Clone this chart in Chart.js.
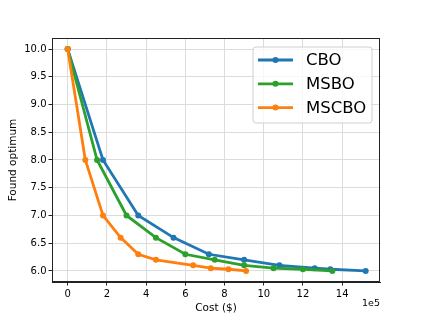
<head>
    <title>Found optimum vs cost</title>
    <script src="https://cdn.jsdelivr.net/npm/chart.js"></script>
</head>
<body>
    <canvas id="chart" width="423" height="317"></canvas>

    <script>
      // values (cost in units of 1e5 $)
      const cboCost = [0, 1.8, 3.6, 5.4, 7.2, 9.0, 10.8, 12.6, 13.4, 15.2];
      const cboOpt = [10.0, 8.0, 7.0, 6.6, 6.3, 6.2, 6.1, 6.05, 6.03, 6.0];
      const msboCost = [0, 1.5, 3.0, 4.5, 6.0, 7.5, 9.0, 10.5, 12.0, 13.5];
      const msboOpt = [10.0, 8.0, 7.0, 6.6, 6.3, 6.2, 6.1, 6.05, 6.03, 6.0];
      const mscboCost = [0, 0.9, 1.8, 2.7, 3.6, 4.5, 6.4, 7.3, 8.2, 9.1];
      const mscboOpt = [10.0, 8.0, 7.0, 6.6, 6.3, 6.2, 6.1, 6.05, 6.03, 6.0];
      const xTicks = [0, 2, 4, 6, 8, 10, 12, 14];
      const yTicks = [6.0, 6.5, 7.0, 7.5, 8.0, 8.5, 9.0, 9.5, 10.0];

      const FONT = 'DejaVu Sans';
      const pts = (xs, ys) => xs.map((x, i) => ({ x: x, y: ys[i] }));
      const serie = (label, color, xs, ys, order) => ({
        label: label, data: pts(xs, ys), order: order,
        borderColor: color, backgroundColor: color,
        borderWidth: 2.8, pointRadius: 3, pointHoverRadius: 3,
        pointBorderWidth: 0, tension: 0
      });

      // frame, axis titles, offset text and the legend box
      const extras = {
        id: 'extras',
        afterDraw(chart) {
          const c = chart.ctx, a = chart.chartArea;
          c.save();
          c.strokeStyle = '#222';
          c.lineWidth = 1;
          c.strokeRect(a.left + 0.5, a.top + 0.5, a.right - a.left - 1, a.bottom - a.top - 1);

          c.fillStyle = '#000';
          c.font = '10.5px ' + FONT;
          c.textAlign = 'center';
          c.textBaseline = 'middle';
          c.fillText('Cost ($)', (a.left + a.right) / 2, 308);
          c.save();
          c.translate(13, (a.top + a.bottom) / 2);
          c.rotate(-Math.PI / 2);
          c.fillText('Found optimum', 0, 0);
          c.restore();
          c.font = '9.5px ' + FONT;
          c.textAlign = 'right';
          c.fillText('1e5', a.right, 304);

          // legend
          const bx = 253, by = 47, bw = 119, bh = 76;
          c.beginPath();
          c.roundRect(bx, by, bw, bh, 3);
          c.fillStyle = 'rgba(255,255,255,0.8)';
          c.fill();
          c.strokeStyle = '#d0d0d0';
          c.stroke();
          c.font = '16.5px ' + FONT;
          c.textAlign = 'left';
          chart.data.datasets.forEach((d, i) => {
            const y = 60 + i * 23.8;
            c.strokeStyle = d.borderColor;
            c.lineWidth = 2.8;
            c.beginPath();
            c.moveTo(258, y);
            c.lineTo(293, y);
            c.stroke();
            c.fillStyle = d.borderColor;
            c.beginPath();
            c.arc(275.5, y, 3, 0, Math.PI * 2);
            c.fill();
            c.fillStyle = '#000';
            c.fillText(d.label, 306, y + 1);
          });
          c.restore();
        }
      };

      const ctx = document.getElementById('chart').getContext('2d');
      const chart = new Chart(ctx, {
        type: 'line',
        data: {
          datasets: [
            serie('CBO', '#1f77b4', cboCost, cboOpt, 2),
            serie('MSBO', '#2ca02c', msboCost, msboOpt, 1),
            serie('MSCBO', '#ff7f0e', mscboCost, mscboOpt, 0)
          ]
        },
        options: {
          responsive: false,
          animation: false,
          devicePixelRatio: 1,
          layout: { padding: { left: 0, top: 38, right: 43, bottom: 0 } },
          plugins: { legend: { display: false }, tooltip: { enabled: false } },
          scales: {
            x: {
              type: 'linear', min: -0.8, max: 15.93,
              afterBuildTicks: s => { s.ticks = xTicks.map(v => ({ value: v })); },
              afterFit: s => { s.height = 35; },
              ticks: { color: '#000', font: { family: FONT, size: 10 }, padding: 3, maxRotation: 0, autoSkip: false, callback: v => String(v) },
              grid: { color: '#dcdcdc', tickColor: '#222', tickLength: 3.5, lineWidth: 1 },
              border: { color: '#222', width: 1 }
            },
            y: {
              type: 'linear', min: 5.8, max: 10.2,
              afterBuildTicks: s => { s.ticks = yTicks.map(v => ({ value: v })); },
              afterFit: s => { s.width = 52; },
              ticks: { color: '#000', font: { family: FONT, size: 10 }, padding: 2, autoSkip: false, callback: v => Number(v).toFixed(1) },
              grid: { color: '#dcdcdc', tickColor: '#222', tickLength: 3.5, lineWidth: 1 },
              border: { color: '#222', width: 1 }
            }
          }
        },
        plugins: [extras]
      });
    </script>

    <style>
      body {
        margin: 0;
        background-color: #ffffff;
      }
      canvas {
        display: block;
      }
    </style>
</body>
